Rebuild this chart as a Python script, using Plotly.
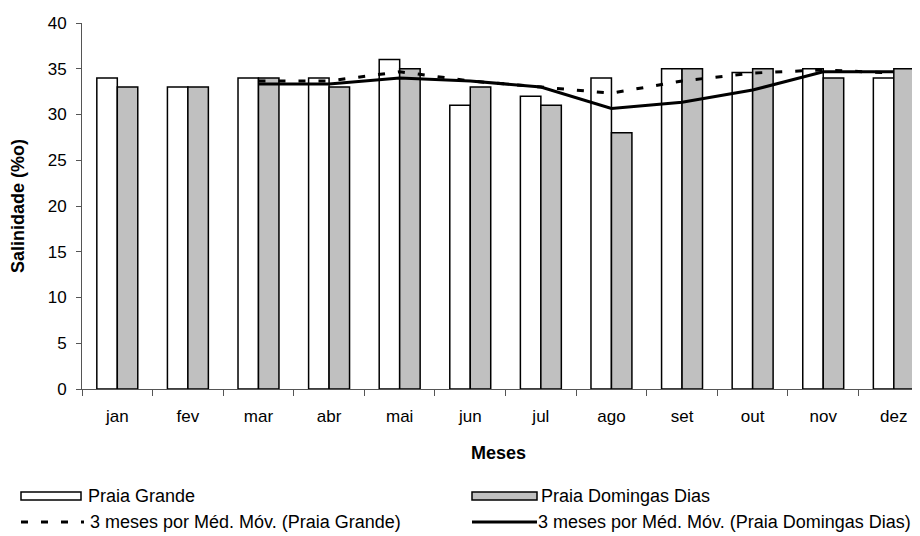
import plotly.graph_objects as go

months = ["jan", "fev", "mar", "abr", "mai", "jun", "jul", "ago", "set", "out", "nov", "dez"]
praia_grande = [34, 33, 34, 34, 36, 31, 32, 34, 35, 34.6, 35, 34]
praia_domingas = [33, 33, 34, 33, 35, 33, 31, 28, 35, 35, 34, 35]

ma_months = ["mar", "abr", "mai", "jun", "jul", "ago", "set", "out", "nov", "dez"]
ma_praia_grande = [33.67, 33.67, 34.67, 33.67, 33.0, 32.33, 33.67, 34.53, 34.87, 34.53]
ma_praia_domingas = [33.33, 33.33, 34.0, 33.67, 33.0, 30.67, 31.33, 32.67, 34.67, 34.67]

name_pg = "Praia Grande"
name_pdd = "Praia Domingas Dias"
name_ma_pg = "3 meses por Méd. Móv. (Praia Grande)"
name_ma_pdd = "3 meses por Méd. Móv. (Praia Domingas Dias)"

FONT = "Liberation Sans, Arial, sans-serif"
OFF = 8  # default page body margin
W, H = 920 - OFF, 536 - OFF
L, R, T, B = 82 - OFF, 5, 23 - OFF, 147
PW = W - L - R
PH = H - T - B


def px(x_screen):
    return (x_screen - OFF - L) / PW


def py(y_screen):
    return (H - B - (y_screen - OFF)) / PH


fig = go.Figure()
fig.add_trace(go.Bar(x=months, y=praia_grande, name=name_pg,
                     marker=dict(color="white", line=dict(color="black", width=1.5)),
                     showlegend=False))
fig.add_trace(go.Bar(x=months, y=praia_domingas, name=name_pdd,
                     marker=dict(color="#c0c0c0", line=dict(color="black", width=1.5)),
                     showlegend=False))
fig.add_trace(go.Scatter(x=ma_months, y=ma_praia_grande, name=name_ma_pg, mode="lines",
                         line=dict(color="black", width=3, dash="7px,13px"),
                         showlegend=False))
fig.add_trace(go.Scatter(x=ma_months, y=ma_praia_domingas, name=name_ma_pdd, mode="lines",
                         line=dict(color="black", width=3),
                         showlegend=False))

shapes = []
annotations = []
# manual legend (Excel style)
row1, row2 = 496, 522
shapes.append(dict(type="rect", xref="paper", yref="paper",
                   x0=px(21), x1=px(81), y0=py(500), y1=py(492),
                   fillcolor="white", line=dict(color="black", width=1.5)))
shapes.append(dict(type="rect", xref="paper", yref="paper",
                   x0=px(472), x1=px(537), y0=py(500), y1=py(492),
                   fillcolor="#c0c0c0", line=dict(color="black", width=1.5)))
shapes.append(dict(type="line", xref="paper", yref="paper",
                   x0=px(21), x1=px(84), y0=py(row2), y1=py(row2),
                   line=dict(color="black", width=3, dash="7px,13px")))
shapes.append(dict(type="line", xref="paper", yref="paper",
                   x0=px(472), x1=px(537), y0=py(row2), y1=py(row2),
                   line=dict(color="black", width=3)))
for text, x, y in [(name_pg, 86, row1), (name_pdd, 539, row1),
                   (name_ma_pg, 88, row2), (name_ma_pdd, 536, row2)]:
    annotations.append(dict(text=text, xref="paper", yref="paper", x=px(x), y=py(y),
                            xanchor="left", yanchor="middle", showarrow=False,
                            font=dict(family=FONT, size=18, color="black")))

fig.update_layout(
    width=W, height=H,
    margin=dict(l=L, r=R, t=T, b=B),
    paper_bgcolor="white", plot_bgcolor="white",
    barmode="group", bargap=0.42, bargroupgap=0,
    font=dict(family=FONT, size=17, color="black"),
    shapes=shapes, annotations=annotations,
    showlegend=False,
)
fig.update_xaxes(type="category", categoryorder="array", categoryarray=months,
                 range=[-0.5, 11.3], tickson="boundaries", ticks="outside", ticklen=6,
                 tickcolor="#555", showline=True, linecolor="#555", linewidth=1,
                 showgrid=False, zeroline=False, ticklabelstandoff=12,
                 tickfont=dict(size=17),
                 title=dict(text="<b>Meses</b>", font=dict(size=18), standoff=20))
fig.update_yaxes(range=[0, 40], dtick=5, ticks="outside", ticklen=5, tickcolor="#555",
                 showline=True, linecolor="#555", linewidth=1, showgrid=False,
                 zeroline=False, ticklabelstandoff=6, tickfont=dict(size=17),
                 title=dict(text="<b>Salinidade (%o)</b>", font=dict(size=18), standoff=18))

fig.write_html("out.html")
